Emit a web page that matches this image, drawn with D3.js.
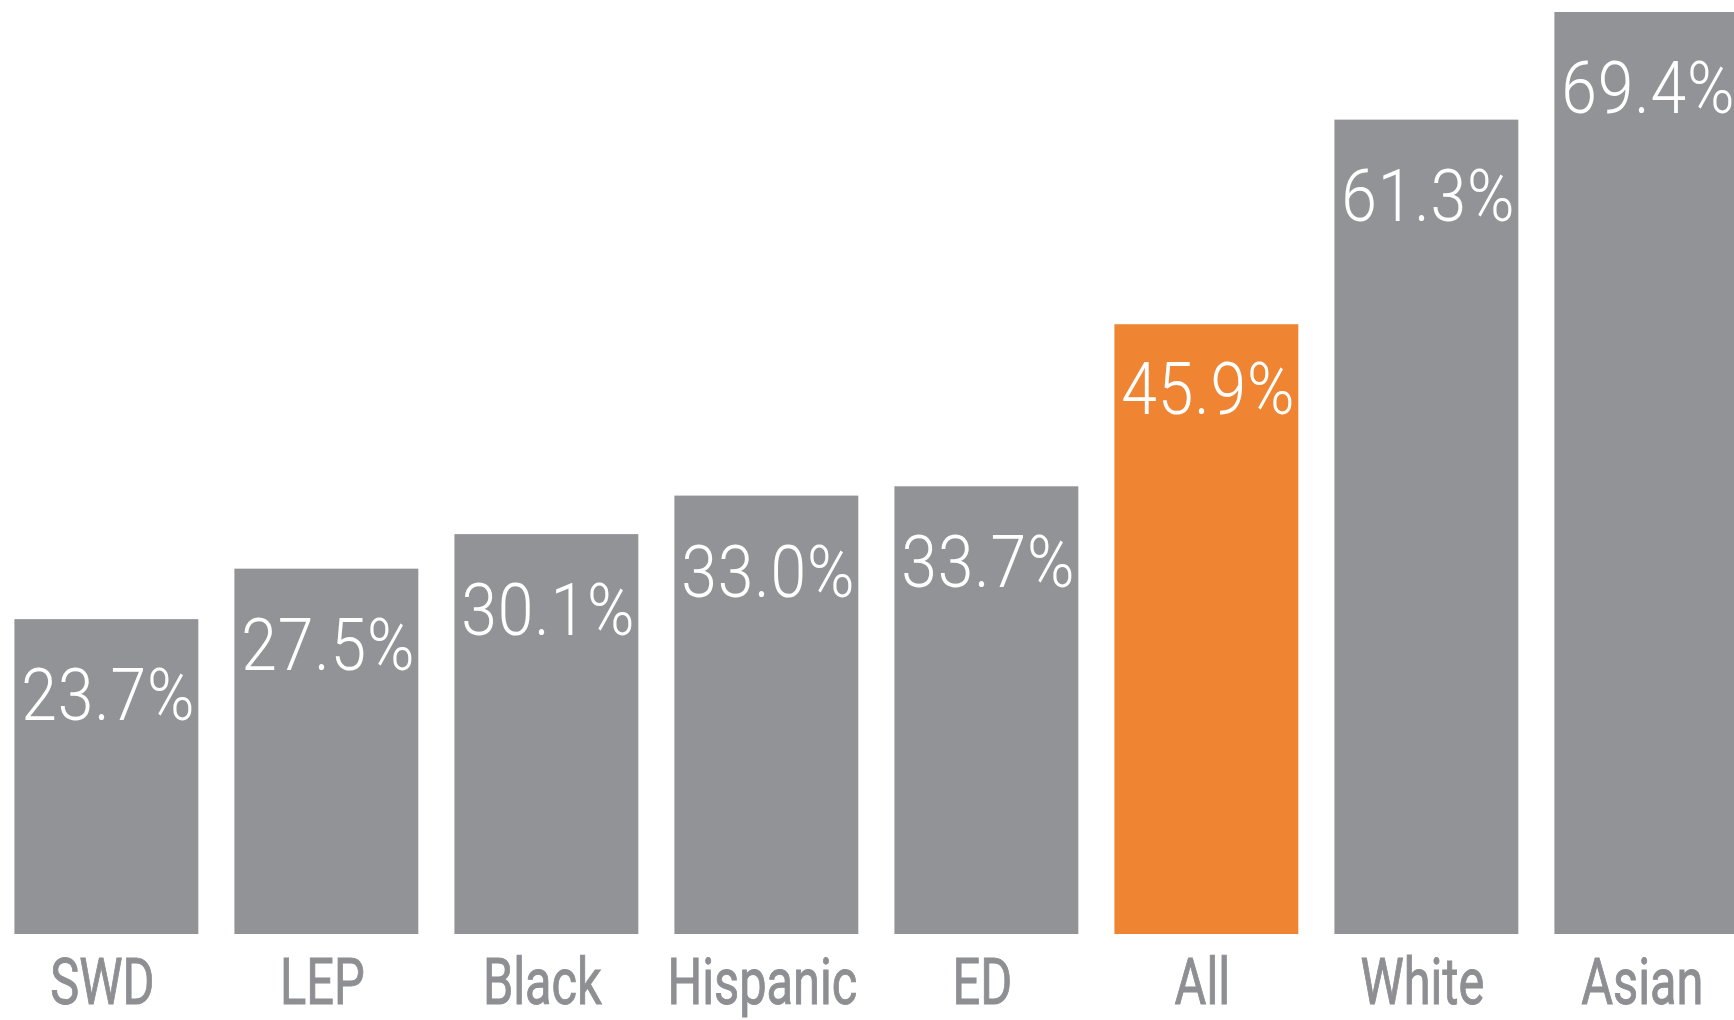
<!DOCTYPE html>
<html>
<head>
<meta charset="utf-8">
<script src="https://cdn.jsdelivr.net/npm/d3@7"></script>
<style>
  html, body { margin: 0; padding: 0; background: #ffffff; overflow: hidden; }
  svg { display: block; }
</style>
</head>
<body>
<svg id="chart" width="1734" height="1020"></svg>
<script>
// Share of students meeting the standard, by group
const categories = ["SWD", "LEP", "Black", "Hispanic", "ED", "All", "White", "Asian"];
const values = [23.7, 27.5, 30.1, 33.0, 33.7, 45.9, 61.3, 69.4];
const highlight = ["All"];

const W = 1734, H = 1020;
const baseline = 934;
const barStep = 220;

const svg = d3.select("#chart");

const x = d3.scaleBand()
  .domain(categories)
  .range([14.4, 14.4 + barStep * (categories.length - 0.164)])
  .paddingInner(0.164)
  .paddingOuter(0);

const y = d3.scaleLinear()
  .domain([0, 70])
  .range([baseline, baseline - 70 * 13.285]);

const grey = "#929397";
const orange = "#ef8533";

const data = categories.map((c, i) => ({ cat: c, v: values[i] }));

// bars
svg.append("g")
  .selectAll("rect")
  .data(data)
  .join("rect")
  .attr("x", d => x(d.cat))
  .attr("y", d => y(d.v))
  .attr("width", x.bandwidth())
  .attr("height", d => y(0) - y(d.v))
  .attr("fill", d => highlight.includes(d.cat) ? orange : grey);

// value labels inside the top of each bar
const valFmt = d => d.toFixed(1) + "%";
svg.append("g")
  .selectAll("text")
  .data(data)
  .join("text")
  .attr("transform", d => {
    const cx = x(d.cat) + x.bandwidth() / 2 + 2;
    const ty = y(d.v) + (highlight.includes(d.cat) ? 90 : 101);
    return `translate(${cx},${ty}) scale(0.88,1)`;
  })
  .attr("text-anchor", "middle")
  .attr("font-family", "Roboto, 'DejaVu Sans', sans-serif")
  .attr("font-weight", 300)
  .attr("font-size", 73)
  .attr("letter-spacing", 1)
  .attr("fill", "#ffffff")
  .text(d => valFmt(d.v));

// category axis labels
const xAxis = d3.axisBottom(x).tickSize(0).tickPadding(0);
const axisG = svg.append("g")
  .attr("transform", `translate(0,${baseline})`)
  .call(xAxis);
axisG.select(".domain").remove();
axisG.selectAll(".tick text")
  .attr("dy", null)
  .attr("y", 0)
  .attr("transform", "translate(-4,70) scale(0.75,1)")
  .attr("text-anchor", "middle")
  .attr("font-family", "Roboto, 'DejaVu Sans', sans-serif")
  .attr("font-weight", 400)
  .attr("font-size", 65)
  .attr("fill", "#8e8f93")
  .attr("stroke", "#8e8f93")
  .attr("stroke-width", 1);
</script>
</body>
</html>
